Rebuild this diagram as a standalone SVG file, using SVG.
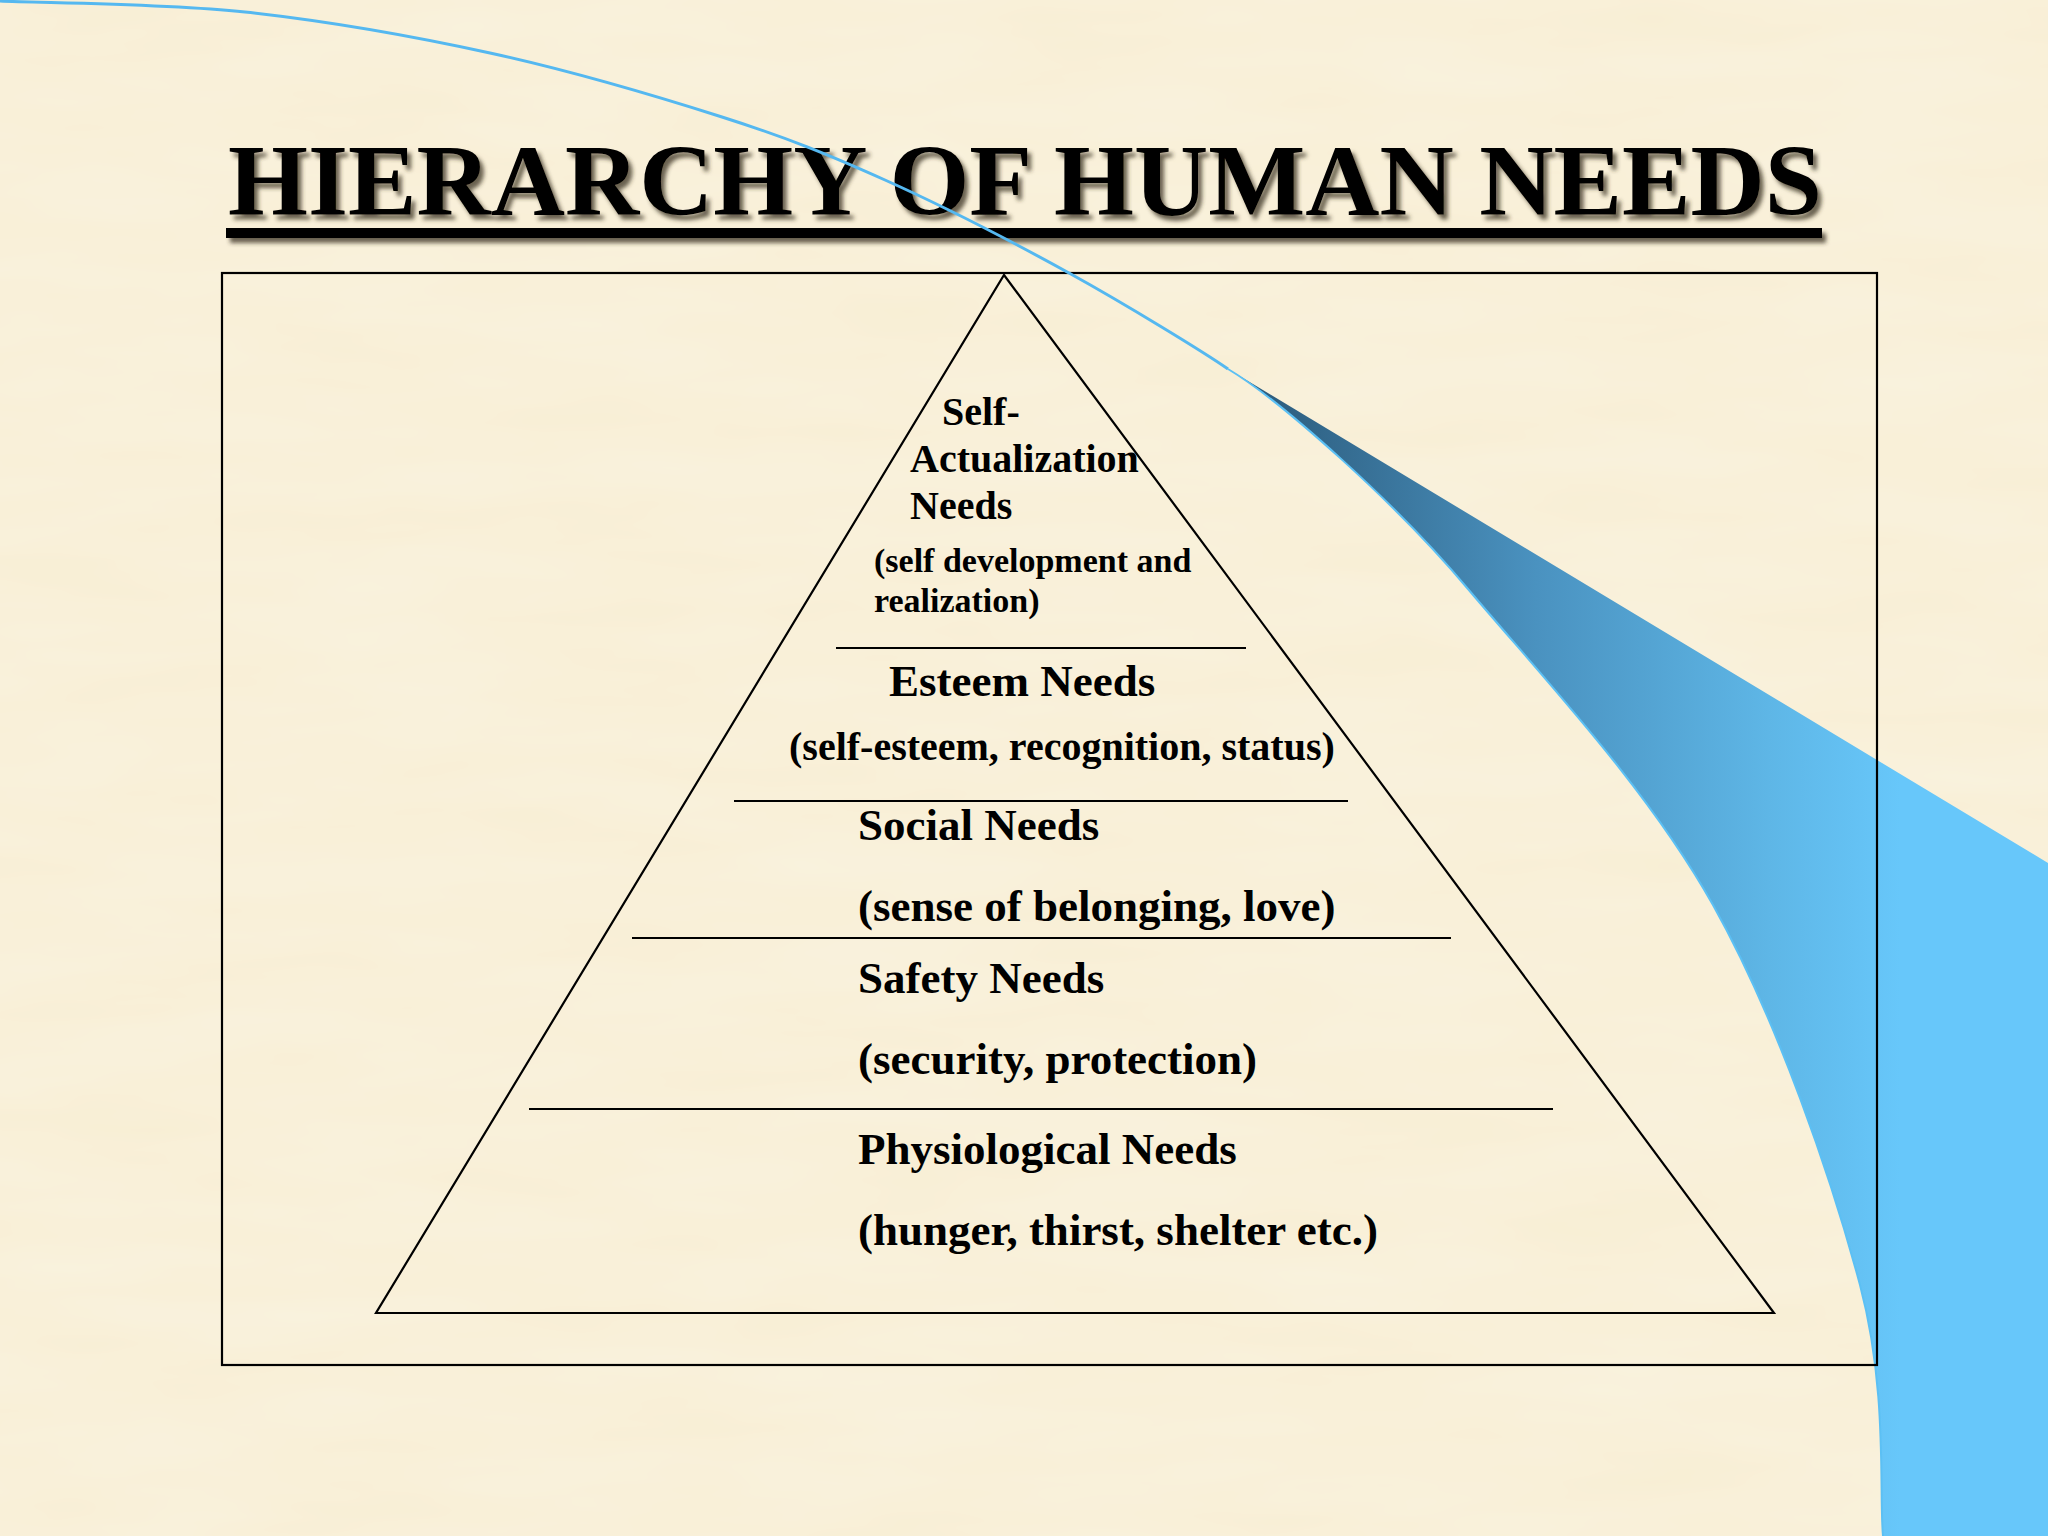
<svg xmlns="http://www.w3.org/2000/svg" width="2048" height="1536" viewBox="0 0 2048 1536">
<defs>
<style>
.t{font-family:"Liberation Serif","Times New Roman",serif;font-weight:bold;fill:#000}
.ln{stroke:#000;stroke-width:2.2;fill:none}
</style>
<linearGradient id="blue" gradientUnits="userSpaceOnUse" x1="1240" y1="0" x2="1900" y2="0">
<stop offset="0" stop-color="#2a5878"/>
<stop offset="0.45" stop-color="#4a92c0"/>
<stop offset="0.8" stop-color="#5eb6e6"/>
<stop offset="1" stop-color="#67c7fa"/>
</linearGradient>
<filter id="shadow" x="-5%" y="-20%" width="110%" height="150%">
<feDropShadow dx="4" dy="5" stdDeviation="2" flood-color="#3a3020" flood-opacity="0.75"/>
</filter>
<filter id="paper" x="0" y="0" width="100%" height="100%">
<feTurbulence type="fractalNoise" baseFrequency="0.004 0.02" numOctaves="3" seed="4" result="n"/>
<feColorMatrix in="n" type="matrix" values="0 0 0 0 0.98  0 0 0 0 0.96  0 0 0 0 0.88  0 0 0 0.35 0"/>
</filter>
</defs>
<rect id="background" x="0" y="0" width="2048" height="1536" fill="#f8eed4"/>
<rect x="0" y="0" width="2048" height="1536" filter="url(#paper)"/>

<g id="swoosh">
<path d="M1228,369 L2048,863 L2048,1536 L1883,1536 C1879,1494 1888,1390 1860,1285 C1832,1180 1778,1021 1713,905 C1648,789 1545,680 1468,589 C1396,503 1280,400 1228,369 Z" fill="url(#blue)"/>
<path d="M1228,369 C1280,400 1396,503 1468,589 C1545,680 1648,789 1713,905 C1778,1021 1832,1180 1860,1285 C1888,1390 1879,1494 1883,1536" fill="none" stroke="#5cc0f4" stroke-width="2"/>
</g>

<g id="frame">
<rect x="222" y="273" width="1655" height="1092" class="ln"/>
</g>

<g id="pyramid">
<polygon points="1004,275 1774,1313 376,1313" class="ln"/>
</g>

<g id="connectors">
<line x1="836" y1="648" x2="1246" y2="648" class="ln" stroke-width="2.6"/>
<line x1="734" y1="801" x2="1348" y2="801" class="ln" stroke-width="2.6"/>
<line x1="632" y1="938" x2="1451" y2="938" class="ln" stroke-width="2.6"/>
<line x1="529" y1="1109" x2="1553" y2="1109" class="ln" stroke-width="2.6"/>
</g>

<g id="title" filter="url(#shadow)">
<text x="228" y="215" class="t" font-size="102" textLength="1594" lengthAdjust="spacingAndGlyphs">HIERARCHY OF HUMAN NEEDS</text>
<rect x="226" y="228" width="1596" height="10" fill="#000"/>
</g>

<g id="self-actualization">
<text class="t" font-size="40" x="942" y="425">Self-</text>
<text class="t" font-size="40" x="910" y="472">Actualization</text>
<text class="t" font-size="40" x="910" y="519">Needs</text>
<text class="t" font-size="34" x="874" y="572">(self development and</text>
<text class="t" font-size="34" x="874" y="612">realization)</text>
</g>

<g id="esteem">
<text class="t" font-size="45" x="889" y="696">Esteem Needs</text>
<text class="t" font-size="40" x="789" y="760">(self-esteem, recognition, status)</text>
</g>

<g id="social">
<text class="t" font-size="45" x="858" y="840">Social Needs</text>
<text class="t" font-size="45" x="858" y="921">(sense of belonging, love)</text>
</g>

<g id="safety">
<text class="t" font-size="45" x="858" y="993">Safety Needs</text>
<text class="t" font-size="45" x="858" y="1074">(security, protection)</text>
</g>

<g id="physiological">
<text class="t" font-size="45" x="858" y="1164">Physiological Needs</text>
<text class="t" font-size="45" x="858" y="1245">(hunger, thirst, shelter etc.)</text>
</g>

<g id="arc-line">
<path d="M0,1 C41,3 163,3.3 245,12 C327,21 410,35.5 490,53 C570,70.5 656,96 722,117 C788,138 827,154 885,180 C943,206 1011,241 1069,273 C1127,305 1205,353 1228,369" fill="none" stroke="#55b8f0" stroke-width="3"/>
</g>
</svg>
